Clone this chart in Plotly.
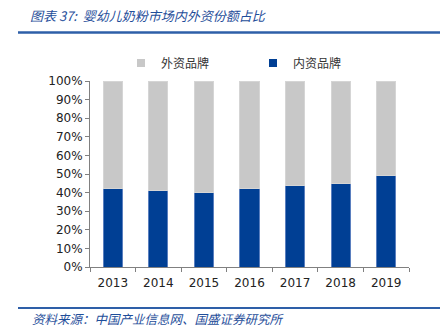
import plotly.graph_objects as go

years = ["2013", "2014", "2015", "2016", "2017", "2018", "2019"]
domestic = [42, 41, 40, 42, 44, 45, 49]
foreign = [58, 59, 60, 58, 56, 55, 51]
y_ticks = [0, 10, 20, 30, 40, 50, 60, 70, 80, 90, 100]
y_tick_labels = [f"{v}%" for v in y_ticks]

title_text = "图表 37:  婴幼儿奶粉市场内外资份额占比"
source_text = "资料来源：中国产业信息网、国盛证券研究所"

blue = "#003F94"
gray = "#C8C8C8"

fig = go.Figure()
fig.add_trace(go.Bar(
    x=years, y=domestic, name="内资品牌", showlegend=False,
    marker=dict(color=blue, line=dict(color="#5A7FBF", width=1)),
))
fig.add_trace(go.Bar(
    x=years, y=foreign, name="外资品牌", showlegend=False,
    marker=dict(color=gray, line=dict(color="#D5D5D5", width=1)),
))
# legend entries (small square symbols)
fig.add_trace(go.Scatter(x=[None], y=[None], mode="markers", name="外资品牌",
                         marker=dict(symbol="square", size=8, color=gray)))
fig.add_trace(go.Scatter(x=[None], y=[None], mode="markers", name="内资品牌",
                         marker=dict(symbol="square", size=8, color=blue)))

cjk = "Noto Sans CJK SC"
fig.update_layout(
    barmode="stack",
    bargap=0.58,
    width=446, height=333,
    margin=dict(l=90, r=37, t=81, b=66),
    paper_bgcolor="white", plot_bgcolor="white",
    font=dict(family="DejaVu Sans, " + cjk, size=12, color="#222222"),
    showlegend=True,
    legend=dict(orientation="h", x=(121 - 90) / 319, xanchor="left", y=1 + (81 - 63) / 186, yanchor="middle",
                traceorder="normal",
                font=dict(family=cjk, size=12, color="#333333"),
                itemwidth=30, entrywidth=87),
    xaxis=dict(showline=True, linecolor="#808080", linewidth=1, ticks="outside",
               tickson="boundaries", ticklen=4, tickcolor="#808080",
               tickfont=dict(size=12, color="#222222"), showgrid=False,
               ticklabelstandoff=5),
    yaxis=dict(range=[0, 100], tickvals=y_ticks, ticktext=y_tick_labels,
               showline=True, linecolor="#808080", linewidth=1, ticks="outside",
               ticklen=4, tickcolor="#808080", showgrid=False, zeroline=False,
               tickfont=dict(size=12, color="#222222")),
)

fig.add_annotation(xref="paper", yref="paper", x=(28 - 90) / 319, y=1 + (81 - 16) / 186,
                   text=f"<i>{title_text}</i>", showarrow=False, xanchor="left", yanchor="middle",
                   font=dict(family=cjk, size=13, color="#1F4E9A"))
fig.add_annotation(xref="paper", yref="paper", x=(30 - 90) / 319, y=-(318 - 267) / 186,
                   text=f"<i>{source_text}</i>", showarrow=False, xanchor="left", yanchor="middle",
                   font=dict(family=cjk, size=12.5, color="#1F4E9A"))
fig.add_shape(type="line", xref="paper", yref="paper",
              x0=(18 - 90) / 319, x1=(440 - 90) / 319,
              y0=1 + (81 - 32.5) / 186, y1=1 + (81 - 32.5) / 186,
              line=dict(color="#2E5FA8", width=2.5))
fig.add_shape(type="line", xref="paper", yref="paper",
              x0=(18 - 90) / 319, x1=(440 - 90) / 319,
              y0=-(308 - 267) / 186, y1=-(308 - 267) / 186,
              line=dict(color="#2E5FA8", width=2))

fig.write_html("out.html")
